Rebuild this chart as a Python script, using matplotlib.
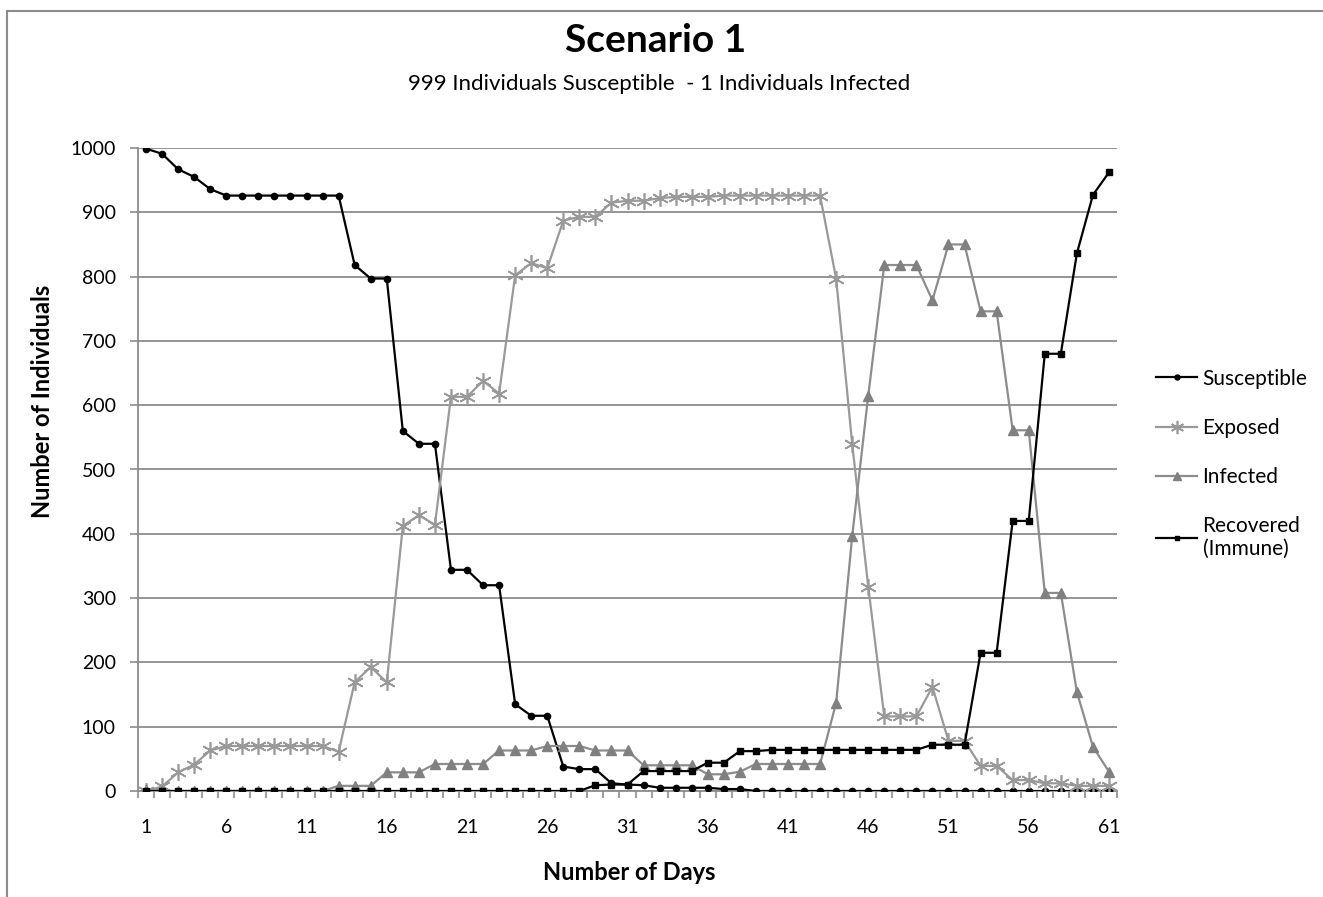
import matplotlib
matplotlib.use('Agg')
import matplotlib.pyplot as plt
from matplotlib.lines import Line2D
import numpy as np

plt.rcParams['font.family'] = ['Lato', 'DejaVu Sans']

days = np.arange(1, 62)

susceptible = [999, 991, 967, 955, 936, 926, 926, 926, 926, 926, 926, 926, 926,
               818, 797, 797, 560, 540, 540, 344, 344, 320, 320, 135, 117, 117,
               38, 34, 34, 12, 10, 9, 5, 5, 5, 5, 3, 3,
               0, 0, 0, 0, 0, 0, 0, 0, 0, 0, 0, 0, 0, 0, 0, 0, 0, 0, 0, 0, 0, 0, 0]

exposed = [0, 7, 29, 41, 63, 70, 70, 70, 70, 70, 70, 70,
           61, 169, 193, 169, 412, 429, 414, 613, 613, 638, 618, 802, 821, 813,
           887, 893, 893, 915, 918, 918, 922, 924, 924, 924, 926,
           926, 926, 926, 926, 926, 926,
           797, 540, 318, 116, 116, 116, 162, 78, 78, 39, 39, 17, 17, 12, 12, 8, 8, 8]

infected = [1, 0, 0, 0, 0, 0, 0, 0, 0, 0, 0, 0,
            8, 8, 8, 29, 29, 29, 42, 42, 42, 42, 63, 63, 63, 70, 70, 70,
            63, 63, 63, 40, 40, 40, 40, 26, 26, 30, 42, 42, 42, 42, 42,
            137, 396, 615, 818, 818, 818, 763, 850, 850, 746, 746, 561, 561,
            308, 308, 154, 69, 30]

recovered = [0] * 28 + [9, 10, 10, 31, 31, 31, 31, 44, 44, 62, 62,
                        64, 64, 64, 64, 64, 64, 64, 64, 64, 64,
                        72, 72, 72, 215, 215, 420, 420, 680, 680, 836, 927, 962]

W, H = 1323, 897
fig = plt.figure(figsize=(W / 100, H / 100), dpi=100)
ax = fig.add_axes([138 / W, 1 - 791 / H, (1117 - 138) / W, (791 - 148) / H])

grid_col = '#8c8c8c'
ax.plot(days, susceptible, color='black', lw=1.6, marker='o', ms=4.5,
        label='Susceptible', zorder=3)
ax.plot(days, exposed, color='#999999', lw=1.6, marker=(6, 2, 0), ms=12,
        mew=1.2, label='Exposed', zorder=3)
ax.plot(days, infected, color='#8c8c8c', lw=1.6, marker='^', ms=7.5,
        mfc='#808080', mec='#808080', label='Infected', zorder=3)
ax.plot(days, recovered, color='black', lw=1.6, marker='s', ms=4,
        label='Recovered\n(Immune)', zorder=4)

ax.set_xlim(0.5, 61.5)
ax.set_ylim(0, 1000)
ax.set_yticks(range(0, 1001, 100))
ax.yaxis.grid(True, color=grid_col, lw=1.3)
ax.set_axisbelow(True)

ax.set_xticks(range(1, 62, 5))
ax.set_xticks(np.arange(0.5, 62, 1), minor=True)
ax.tick_params(axis='x', which='major', length=0, pad=20, labelsize=14)
ax.tick_params(axis='x', which='minor', length=5, width=1.2, color=grid_col)
ax.tick_params(axis='y', length=6, width=1.2, color=grid_col, pad=10, labelsize=14)

for s in ['top', 'right']:
    ax.spines[s].set_visible(False)
for s in ['left', 'bottom']:
    ax.spines[s].set_color(grid_col)
    ax.spines[s].set_linewidth(1.3)

fig.text(656 / W, 1 - 41 / H, 'Scenario 1', ha='center', va='center',
         fontsize=28, fontweight='bold')
fig.text(659 / W, 1 - 84 / H,
         '999 Individuals Susceptible  - 1 Individuals Infected',
         ha='center', va='center', fontsize=16)
fig.text(629 / W, 1 - 872 / H, 'Number of Days', ha='center', va='center',
         fontsize=17, fontweight='bold')
fig.text(43 / W, 1 - 401 / H, 'Number of Individuals', ha='center', va='center',
         rotation=90, fontsize=17, fontweight='bold')

fig.legend(loc='center left', bbox_to_anchor=(1137 / W, 1 - 464 / H),
           frameon=False, fontsize=15, handlelength=2.0, labelspacing=1.4,
           handletextpad=0.25, markerscale=0.8)

# outer chart border
fig.add_artist(Line2D([7 / W, 7 / W], [0, 1 - 11 / H], color=grid_col, lw=1.5))
fig.add_artist(Line2D([7 / W, 1], [1 - 11 / H, 1 - 11 / H], color=grid_col, lw=1.5))

fig.savefig('out.png', dpi=100)
